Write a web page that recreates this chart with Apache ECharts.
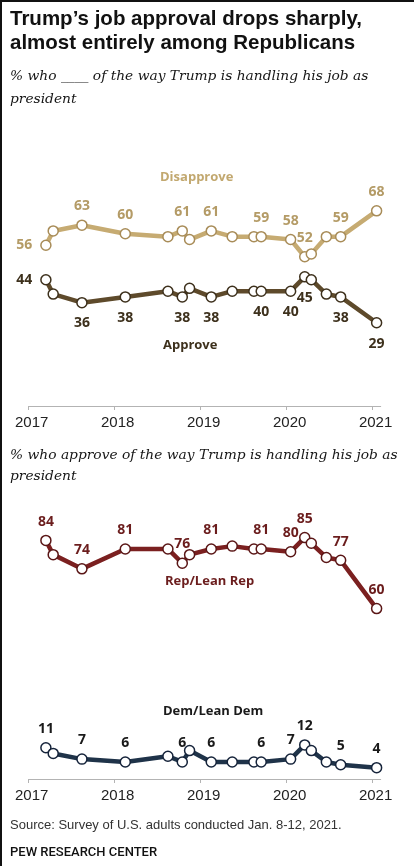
<!DOCTYPE html>
<html>
<head>
<meta charset="utf-8">
<script src="https://cdn.jsdelivr.net/npm/echarts@6/dist/echarts.min.js"></script>
<style>
  html, body { margin: 0; padding: 0; background: #fff; }
  #chart { width: 414px; height: 866px; }
</style>
</head>
<body>
<div id="chart"></div>
<script>
// Survey field dates (mid-month) for each approval reading
const surveyDates = [
  '2017-03-15', '2017-04-15', '2017-08-15', '2018-02-15', '2018-08-15',
  '2018-10-15', '2018-11-15', '2019-02-15', '2019-05-15', '2019-08-15',
  '2019-09-15', '2020-01-18', '2020-03-18', '2020-04-15', '2020-06-18',
  '2020-08-18', '2021-01-18'
];
const yearTicks = [2017, 2018, 2019, 2020, 2021];

// All adults
const disapprove = [56, 61, 63, 60, 59, 61, 58, 61, 59, 59, 59, 58, 52, 53, 59, 59, 68];
const approve    = [44, 39, 36, 38, 40, 38, 41, 38, 40, 40, 40, 40, 45, 44, 39, 38, 29];

// Approval by party
const repLeanRep = [84, 79, 74, 81, 81, 76, 79, 81, 82, 81, 81, 80, 85, 83, 78, 77, 60];
const demLeanDem = [11, 9, 7, 6, 8, 6, 10, 6, 6, 6, 6, 7, 12, 10, 6, 5, 4];

// Readings that carry a value label
const labelledPoints = [0, 2, 3, 5, 7, 10, 11, 12, 15, 16];

// Date string -> fractional year, so the axis runs in years
function yearFraction(s) {
  const p = s.split('-').map(Number);
  const start = Date.UTC(p[0], 0, 1);
  const next = Date.UTC(p[0] + 1, 0, 1);
  return p[0] + (Date.UTC(p[0], p[1] - 1, p[2]) - start) / (next - start);
}

const labelFont = '"Open Sans", "Liberation Sans", sans-serif';

function lineSeries(name, values, gridIndex, style) {
  return {
    name: name,
    type: 'line',
    xAxisIndex: gridIndex,
    yAxisIndex: gridIndex,
    symbol: 'circle',
    symbolSize: 10,
    showAllSymbol: true,
    lineStyle: { color: style.line, width: 4.5 },
    itemStyle: { color: '#fff', borderColor: style.border, borderWidth: 1.5 },
    emphasis: { disabled: true },
    z: 3,
    data: values.map((v, i) => {
      const shown = labelledPoints.indexOf(i) >= 0;
      const first = i === 0 && style.firstLeft;
      return {
        value: [yearFraction(surveyDates[i]), v],
        label: {
          show: shown,
          position: first ? 'left' : style.pos,
          distance: first ? 8 : style.dist,
          color: style.text,
          fontFamily: labelFont,
          fontWeight: 'bold',
          fontSize: 14
        }
      };
    })
  };
}

function yearAxis(gridIndex) {
  return {
    type: 'value',
    gridIndex: gridIndex,
    min: 2017,
    max: 2021.094,
    axisLine: { show: true, lineStyle: { color: '#b3b3b3', width: 1 } },
    axisTick: { show: true, customValues: yearTicks, length: 4, lineStyle: { color: '#b3b3b3' } },
    axisLabel: {
      customValues: yearTicks,
      formatter: v => String(Math.round(v)),
      fontFamily: '"Liberation Sans", Arial, sans-serif',
      fontSize: 15,
      color: '#222',
      margin: 9,
      padding: [0, 0, 0, 6]
    },
    splitLine: { show: false }
  };
}

function valueAxis(gridIndex) {
  return { type: 'value', gridIndex: gridIndex, min: 0, max: 100, show: false };
}

function text(x, y, str, style) {
  return {
    type: 'text', left: x, top: y, silent: true,
    style: Object.assign({ text: str, fill: '#222' }, style)
  };
}

const titleFont = '"Liberation Sans", Arial, sans-serif';
const subFont = '"DejaVu Serif", serif';

const chart = echarts.init(document.getElementById('chart'), null, { renderer: 'canvas' });
chart.setOption({
  animation: false,
  backgroundColor: '#fff',
  grid: [
    { left: 28.7, width: 352, top: 119, height: 287 },
    { left: 28.7, width: 352, top: 495, height: 284 }
  ],
  xAxis: [yearAxis(0), yearAxis(1)],
  yAxis: [valueAxis(0), valueAxis(1)],
  series: [
    lineSeries('Disapprove', disapprove, 0, { line: '#c6ab72', border: '#a88c58', text: '#b49b66', pos: 'top', dist: 6, firstLeft: true }),
    lineSeries('Approve', approve, 0, { line: '#5e4a2b', border: '#3d301c', text: '#3d301c', pos: 'bottom', dist: 8, firstLeft: true }),
    lineSeries('Rep/Lean Rep', repLeanRep, 1, { line: '#7b2020', border: '#5a1616', text: '#6b1d1d', pos: 'top', dist: 6, firstLeft: false }),
    lineSeries('Dem/Lean Dem', demLeanDem, 1, { line: '#1f3349', border: '#15233a', text: '#1a1a1a', pos: 'top', dist: 6, firstLeft: false })
  ],
  graphic: [
    // frame
    { type: 'rect', left: 0, top: 0, shape: { width: 414, height: 2 }, style: { fill: '#111' }, silent: true },
    { type: 'rect', left: 0, top: 0, shape: { width: 2, height: 866 }, style: { fill: '#111' }, silent: true },
    // headline
    text(10, 9, 'Trump\u2019s job approval drops sharply,', { font: 'bold 20.5px ' + titleFont, fill: '#111' }),
    text(10, 33, 'almost entirely among Republicans', { font: 'bold 20.5px ' + titleFont, fill: '#111' }),
    text(10, 69, '% who ____ of the way Trump is handling his job as', { font: 'italic 13.8px ' + subFont, fill: '#161616' }),
    text(10, 92, 'president', { font: 'italic 13.8px ' + subFont, fill: '#161616' }),
    // series names, top panel
    { type: 'text', left: 160, top: 171, silent: true,
      style: { text: 'Disapprove', font: 'bold 13px ' + labelFont, fill: '#c2a86f' } },
    { type: 'text', left: 163, top: 339, silent: true,
      style: { text: 'Approve', font: 'bold 13px ' + labelFont, fill: '#3d301c' } },
    // second panel heading
    text(10, 448, '% who approve of the way Trump is handling his job as', { font: 'italic 13.8px ' + subFont, fill: '#161616' }),
    text(10, 469, 'president', { font: 'italic 13.8px ' + subFont, fill: '#161616' }),
    { type: 'text', left: 165, top: 575, silent: true,
      style: { text: 'Rep/Lean Rep', font: 'bold 13px ' + labelFont, fill: '#6b1d1d' } },
    { type: 'text', left: 163, top: 705, silent: true,
      style: { text: 'Dem/Lean Dem', font: 'bold 13px ' + labelFont, fill: '#1a1a1a' } },
    // footer
    text(10, 819, 'Source: Survey of U.S. adults conducted Jan. 8-12, 2021.', { font: '13px "Liberation Sans", Arial, sans-serif', fill: '#333' }),
    text(10, 846, 'PEW RESEARCH CENTER', { font: '500 13px Roboto, sans-serif', fill: '#111' })
  ]
});
</script>
</body>
</html>
